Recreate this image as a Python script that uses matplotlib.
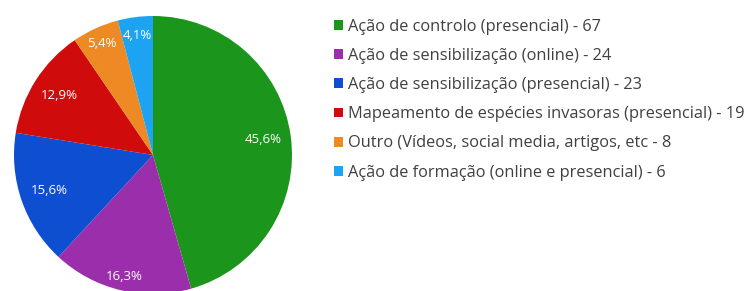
import matplotlib
matplotlib.use('Agg')
import matplotlib.pyplot as plt
import numpy as np

categories = ['Ação de controlo (presencial)', 'Ação de sensibilização (online)',
              'Ação de sensibilização (presencial)', 'Mapeamento de espécies invasoras (presencial)',
              'Outro (Vídeos, social media, artigos, etc', 'Ação de formação (online e presencial)']
counts = [67, 24, 23, 19, 8, 6]
colors = ['#1b951b', '#9b2fab', '#0e4ed0', '#cf0b0b', '#ee8a24', '#1ca4f2']
# how far out each % label sits (fraction of radius)
label_dist = [0.80, 0.90, 0.79, 0.80, 0.88, 0.87]

plt.rcParams['font.family'] = ['Open Sans', 'DejaVu Sans']

W, H = 751, 291
fig = plt.figure(figsize=(W / 100, H / 100), dpi=100)

cx, cy, r = 153, 155, 139
ax = fig.add_axes([(cx - r) / W, (H - cy - r) / H, 2 * r / W, 2 * r / H])

total = sum(counts)
wedges, _ = ax.pie(counts, colors=colors, startangle=90, counterclock=False,
                   wedgeprops=dict(linewidth=0))
ax.set_xlim(-1, 1)
ax.set_ylim(-1, 1)
ax.set_aspect('auto')
ax.axis('off')

for w, n, d in zip(wedges, counts, label_dist):
    ang = np.deg2rad((w.theta1 + w.theta2) / 2)
    pct = f'{100 * n / total:.1f}%'.replace('.', ',')
    ax.text(d * np.cos(ang), d * np.sin(ang), pct, color='white', fontsize=9.5,
            ha='center', va='center')

labels = [f'{c} - {n}' for c, n in zip(categories, counts)]
fig.legend(wedges, labels, loc='upper left', bbox_to_anchor=(334 / W, 1 - 19 / H),
           frameon=False, fontsize=11.8, handlelength=0.55, handleheight=0.55,
           handletextpad=0.3, labelspacing=0.8, borderpad=0, borderaxespad=0,
           labelcolor='#404040')

fig.savefig('out.png', dpi=100)
